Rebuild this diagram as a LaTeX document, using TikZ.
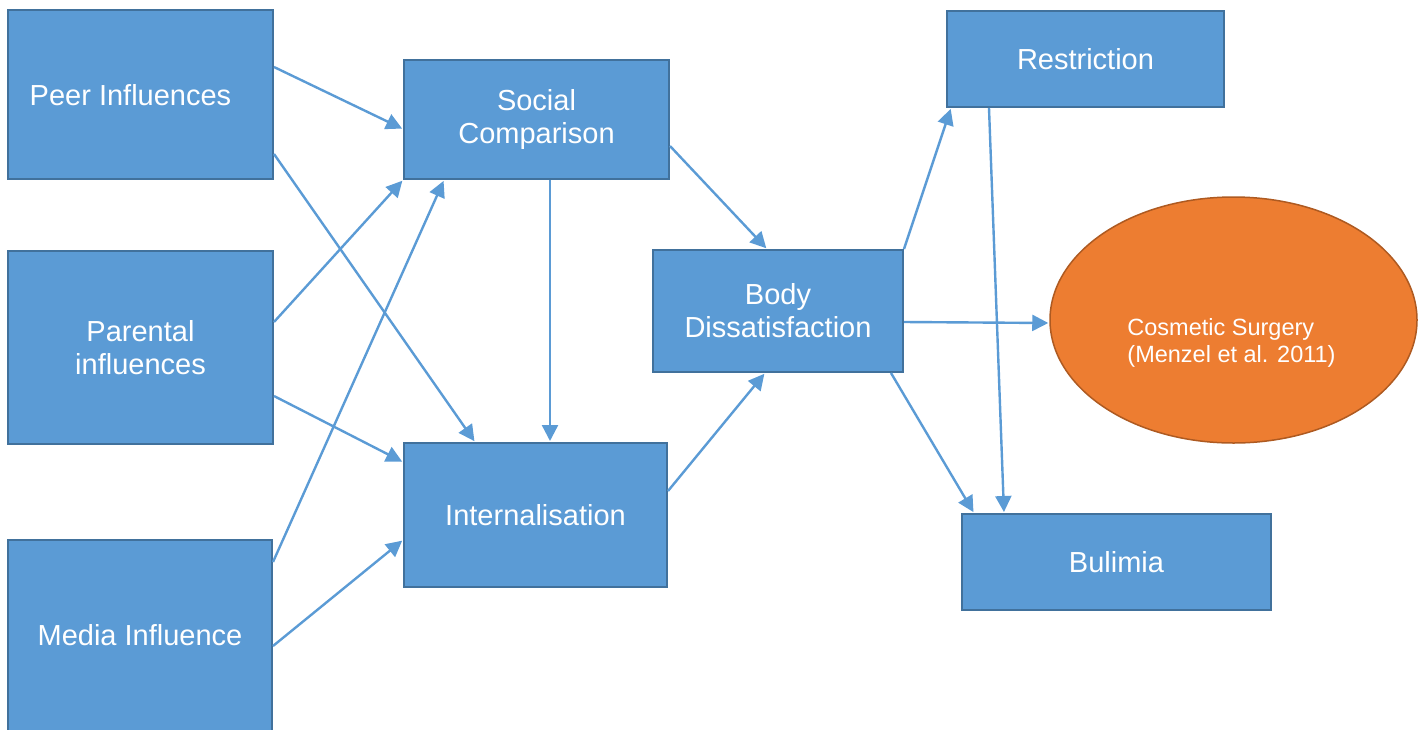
\documentclass[tikz,border=0pt]{standalone}
\usepackage{fontspec}
\setmainfont{Liberation Sans}
\usetikzlibrary{arrows.meta,shapes.geometric}
\definecolor{boxfill}{HTML}{5B9BD5}
\definecolor{boxline}{HTML}{41719C}
\definecolor{ovalfill}{HTML}{ED7D31}
\definecolor{ovalline}{HTML}{AE5A21}
\tikzset{
  box/.style={draw=boxline, fill=boxfill, line width=2pt, rectangle,
    inner sep=0pt, text=white, align=center,
    font=\fontsize{29}{33}\selectfont},
  boxtext/.style={text=white, align=center, font=\fontsize{29}{33}\selectfont},
  oval/.style={draw=ovalline, fill=ovalfill, line width=1.5pt, ellipse, inner sep=0pt},
  ovaltext/.style={text=white, align=left, font=\fontsize{23.5}{27}\selectfont},
  link/.style={draw=boxfill, line width=2.4pt,
    -{Triangle[length=16pt,width=16pt]}, shorten >=1pt},
}
\begin{document}
\begin{tikzpicture}[x=1pt,y=-1pt]
\useasboundingbox (0,0) rectangle (1425,729);
\begin{scope}
\clip (0,0) rectangle (1425,729);
% sources
\node[box, minimum width=265, minimum height=169,
  label={[boxtext,xshift=-10pt,yshift=-1pt]center:Peer Influences}] (peer) at (140.5,94.5) {};
\node[box, minimum width=265, minimum height=193] (parent) at (140.5,347.5) {Parental\\influences};
\node[box, minimum width=264, minimum height=197] (media) at (140,638.5) {};
\node[boxtext] (mediatext) at (140,635.5) {Media Influence};
% mediators
\node[box, minimum width=265, minimum height=119] (social) at (536.5,119.5) {Social\\Comparison};
\node[box, minimum width=263, minimum height=144] (intern) at (535.5,515) {Internalisation};
\node[box, minimum width=250, minimum height=122] (body) at (778,311) {Body\\Dissatisfaction};
% outcomes
\node[box, minimum width=277, minimum height=96] (restrict) at (1085.5,59) {Restriction};
\node[box, minimum width=309, minimum height=96] (bulimia) at (1116.5,562) {Bulimia};
\node[oval, minimum width=367, minimum height=246,
  label={[ovaltext,yshift=-23pt,xshift=-2pt]center:Cosmetic Surgery\\(Menzel et al. 2011)}] (surgery) at (1233.5,320) {};
\end{scope}
% connectors
\draw[link] ([yshift=-58pt]peer.north east) -- ([yshift=-70pt]social.north west);
\draw[link] ([yshift=-145pt]peer.north east) -- ([xshift=72pt]intern.north west);
\draw[link] ([yshift=-72pt]parent.north east) -- (social.south west);
\draw[link] ([yshift=-146pt]parent.north east) -- ([yshift=-20pt]intern.north west);
\draw[link] ([yshift=-23pt]media.north east) -- ([xshift=41pt]social.south west);
\draw[link] ([yshift=-107pt]media.north east) -- ([yshift=-98pt]intern.north west);
\draw[link] ([xshift=147pt]social.south west) -- ([xshift=147pt]intern.north west);
\draw[link] ([yshift=-87pt]social.north east) -- ([xshift=115pt]body.north west);
\draw[link] ([yshift=-49pt]intern.north east) -- ([xshift=113pt]body.south west);
\draw[link] (body.north east) -- ([xshift=5pt]restrict.south west);
\draw[link] ([yshift=-73pt]body.north east) -- ([yshift=-3pt]surgery.west);
\draw[link] ([xshift=-13pt]body.south east) -- ([xshift=13pt]bulimia.north west);
\draw[link] ([xshift=43pt]restrict.south west) -- ([xshift=43pt]bulimia.north west);
\end{tikzpicture}
\end{document}
